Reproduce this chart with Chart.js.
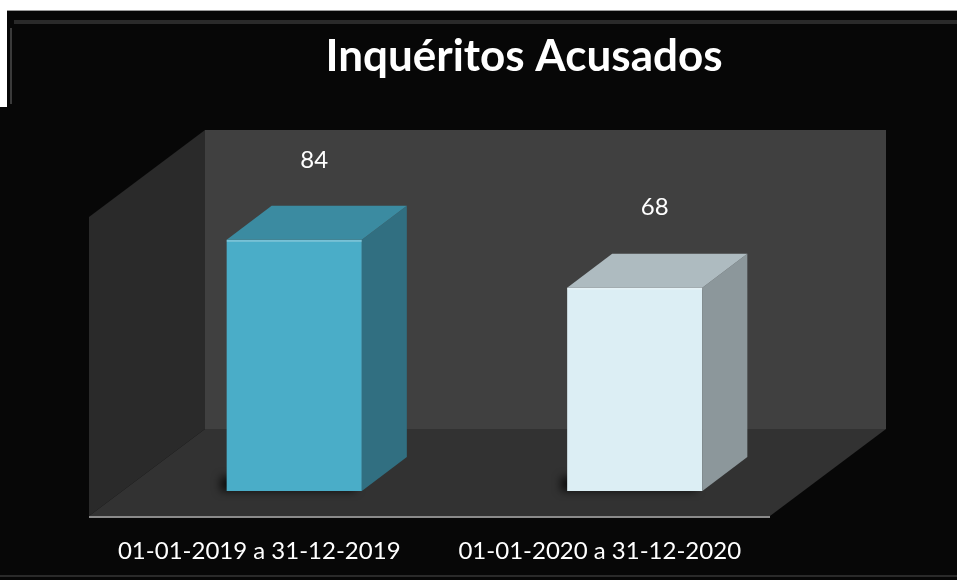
<!DOCTYPE html>
<html>
<head>
<meta charset="utf-8">
<style>
  html, body { margin: 0; padding: 0; background: #fff; }
  #wrap { width: 957px; height: 580px; position: relative; }
</style>
<script src="https://cdn.jsdelivr.net/npm/chart.js@4/dist/chart.umd.min.js"></script>
</head>
<body>
<div id="wrap"><canvas id="inqChart"></canvas></div>
<script>
// data
const chartTitle = 'Inquéritos Acusados';
const periods = ['01-01-2019 a 31-12-2019', '01-01-2020 a 31-12-2020'];
const acusados = [84, 68];

// face colours per bar: front, top, side
const frontColors = ['#4aadc8', '#dceef4'];
const topColors = ['#3b8ba1', '#aebbc0'];
const sideColors = ['#316f81', '#8c979b'];

// depth offsets of the fake 3D box
const BACK = { dx: 81, dy: -62 };
const FRONT = { dx: -35, dy: 25 };
const BAR_DEPTH = { dx: 45, dy: -34 };

function poly(ctx, pts, fill) {
    ctx.beginPath();
    ctx.moveTo(pts[0][0], pts[0][1]);
    for (let i = 1; i < pts.length; i++) ctx.lineTo(pts[i][0], pts[i][1]);
    ctx.closePath();
    ctx.fillStyle = fill;
    ctx.fill();
}

const scene3d = {
    id: 'scene3d',
    beforeDraw(chart) {
        const ctx = chart.ctx;
        const a = chart.chartArea;
        const y = chart.scales.y;
        const B = y.getPixelForValue(0);
        const T = y.getPixelForValue(y.max);
        const L = a.left, R = a.right;
        ctx.save();
        // frame
        ctx.fillStyle = '#fff';
        ctx.fillRect(0, 0, chart.width, chart.height);
        ctx.fillStyle = '#070707';
        ctx.fillRect(7, 10, chart.width - 7, chart.height - 10);
        ctx.fillRect(0, 107, 7, chart.height - 107);
        ctx.fillStyle = '#9a9a9a';
        ctx.fillRect(7, 10, chart.width - 7, 1);
        ctx.fillStyle = '#2a2a2a';
        ctx.fillRect(14, 20, chart.width - 14, 4);
        ctx.fillStyle = '#3a3a3a';
        ctx.fillRect(10, 28, 2, 76);
        ctx.fillStyle = '#2a2a2a';
        ctx.fillRect(0, chart.height - 5, chart.width, 2);

        // back wall
        poly(ctx, [[L + BACK.dx, T + BACK.dy], [R + BACK.dx, T + BACK.dy],
                   [R + BACK.dx, B + BACK.dy], [L + BACK.dx, B + BACK.dy]], '#404040');
        // left wall
        poly(ctx, [[L + FRONT.dx, T + FRONT.dy], [L + BACK.dx, T + BACK.dy],
                   [L + BACK.dx, B + BACK.dy], [L + FRONT.dx, B + FRONT.dy]], '#2a2a2a');
        // floor
        poly(ctx, [[L + FRONT.dx, B + FRONT.dy], [L + BACK.dx, B + BACK.dy],
                   [R + BACK.dx, B + BACK.dy], [R + FRONT.dx, B + FRONT.dy]], '#323232');
        ctx.fillStyle = '#8a8a8a';
        ctx.fillRect(L + FRONT.dx, B + FRONT.dy, R - L, 2);

        // soft shadows at bar feet (shape drawn off-canvas, only its shadow lands)
        const meta = chart.getDatasetMeta(0);
        meta.data.forEach(bar => {
            const p = bar.getProps(['x', 'base', 'width'], true);
            ctx.save();
            ctx.shadowColor = 'rgba(0,0,0,0.75)';
            ctx.shadowBlur = 8;
            ctx.shadowOffsetX = 2000;
            ctx.fillStyle = '#000';
            ctx.fillRect(p.x - p.width / 2 - 6 - 2000, p.base - 14, p.width, 14);
            ctx.restore();
        });
        ctx.restore();
    },
    afterDatasetsDraw(chart) {
        const ctx = chart.ctx;
        const meta = chart.getDatasetMeta(0);
        const d = BAR_DEPTH;
        ctx.save();
        meta.data.forEach((bar, i) => {
            const p = bar.getProps(['x', 'y', 'base', 'width'], true);
            const l = p.x - p.width / 2, r = p.x + p.width / 2;
            // side face
            poly(ctx, [[r, p.y], [r + d.dx, p.y + d.dy], [r + d.dx, p.base + d.dy], [r, p.base]], sideColors[i]);
            // top face
            poly(ctx, [[l, p.y], [l + d.dx, p.y + d.dy], [r + d.dx, p.y + d.dy], [r, p.y]], topColors[i]);
            // light edge along top front
            ctx.fillStyle = 'rgba(255,255,255,0.25)';
            ctx.fillRect(l, p.y, p.width, 2);

            // value label
            ctx.fillStyle = '#ffffff';
            ctx.font = '24px Lato';
            ctx.textAlign = 'center';
            ctx.textBaseline = 'middle';
            ctx.fillText(String(acusados[i]), p.x + 20, p.y - 80);
        });

        // category labels, placed from the x scale ticks
        const x = chart.scales.x;
        const y = chart.scales.y;
        ctx.font = '24px Lato';
        ctx.fillStyle = '#ffffff';
        ctx.textAlign = 'center';
        ctx.textBaseline = 'middle';
        periods.forEach((label, i) => {
            ctx.fillText(label, x.getPixelForTick(i) - 35, y.getPixelForValue(0) + 60);
        });

        // title
        ctx.font = 'bold 44px Lato';
        ctx.textBaseline = 'alphabetic';
        ctx.fillText(chartTitle, 524, 71);
        ctx.restore();
    }
};

document.addEventListener('DOMContentLoaded', function() {
    const ctx = document.getElementById('inqChart').getContext('2d');
    new Chart(ctx, {
        type: 'bar',
        data: {
            labels: periods,
            datasets: [{
                label: chartTitle,
                data: acusados,
                backgroundColor: frontColors,
                borderWidth: 0,
                barPercentage: 0.397,
                categoryPercentage: 1
            }]
        },
        options: {
            responsive: true,
            maintainAspectRatio: false,
            animation: false,
            layout: {
                padding: { left: 124, right: 152, top: 192, bottom: 89 }
            },
            plugins: {
                legend: { display: false },
                title: { display: false },
                tooltip: { enabled: false }
            },
            scales: {
                x: { display: false },
                y: { display: false, min: 0, max: 100 }
            }
        },
        plugins: [scene3d]
    });
});
</script>
</body>
</html>
